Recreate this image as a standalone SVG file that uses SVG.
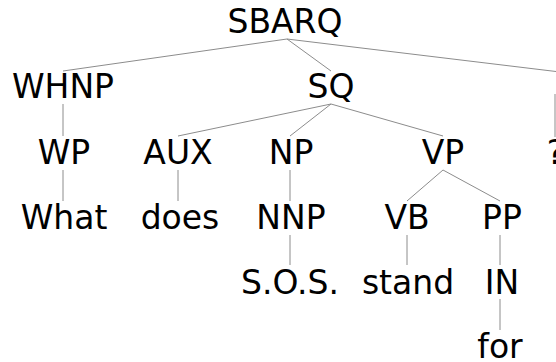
<svg xmlns="http://www.w3.org/2000/svg" width="556" height="362" viewBox="0 0 556 362">
<style>
text{font-family:"DejaVu Sans",sans-serif;font-size:33px;fill:#000;text-anchor:middle}
line{stroke:#8c8c8c;stroke-width:1}
</style>
<rect width="556" height="362" fill="#fff"/>
<g id="connectors">
<line x1="287" y1="39" x2="63" y2="71"/>
<line x1="287" y1="39" x2="331" y2="71"/>
<line x1="287" y1="39" x2="560" y2="72"/>
<line x1="63" y1="104" x2="63" y2="136"/>
<line x1="331" y1="104" x2="178" y2="136"/>
<line x1="331" y1="104" x2="290" y2="136"/>
<line x1="331" y1="104" x2="443" y2="136"/>
<line x1="555" y1="94" x2="555" y2="137"/>
<line x1="63" y1="170" x2="63" y2="201"/>
<line x1="178" y1="170" x2="178" y2="201"/>
<line x1="290" y1="170" x2="290" y2="201"/>
<line x1="443" y1="170" x2="407" y2="201"/>
<line x1="443" y1="170" x2="500" y2="201"/>
<line x1="290" y1="235" x2="290" y2="265"/>
<line x1="407" y1="235" x2="407" y2="265"/>
<line x1="500" y1="235" x2="500" y2="265"/>
<line x1="500" y1="299" x2="500" y2="330"/>
</g>
<g id="n-SBARQ"><text x="285" y="33">SBARQ</text></g>
<g id="n-WHNP"><text x="63" y="98">WHNP</text></g>
<g id="n-SQ"><text x="331" y="98">SQ</text></g>
<g id="n-WP"><text x="64" y="164">WP</text></g>
<g id="n-AUX"><text x="178" y="164">AUX</text></g>
<g id="n-NP"><text x="291" y="164">NP</text></g>
<g id="n-VP"><text x="443" y="164">VP</text></g>
<g id="n-q"><text x="555.5" y="164">?</text></g>
<g id="n-What"><text x="64" y="229">What</text></g>
<g id="n-does"><text x="180" y="229">does</text></g>
<g id="n-NNP"><text x="291" y="229">NNP</text></g>
<g id="n-VB"><text x="407" y="229">VB</text></g>
<g id="n-PP"><text x="502" y="229">PP</text></g>
<g id="n-SOS"><text x="290" y="294">S.O.S.</text></g>
<g id="n-stand"><text x="408" y="294">stand</text></g>
<g id="n-IN"><text x="502" y="294">IN</text></g>
<g id="n-for"><text x="500" y="358">for</text></g>
</svg>
